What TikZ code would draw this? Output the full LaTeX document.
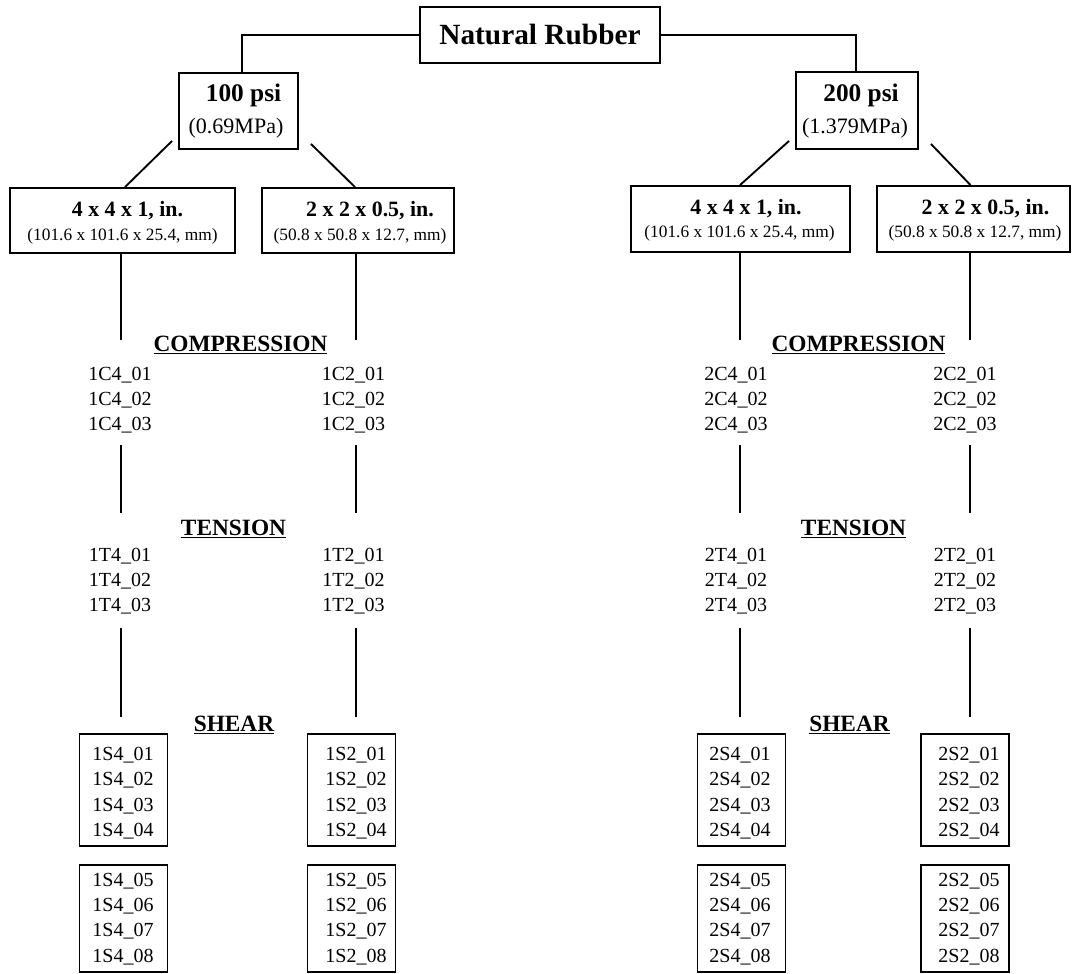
\documentclass[tikz,border=0pt]{standalone}
\usepackage{fontspec}
\setmainfont{Liberation Serif}
\usetikzlibrary{calc}
\begin{document}
\begin{tikzpicture}[x=0.75pt,y=-0.75pt,line width=1.4pt,
  box/.style={draw,line width=1.4pt,inner sep=0pt},
  ttl/.style={font=\fontsize{22}{26}\selectfont\bfseries},
  psi/.style={font=\fontsize{19}{22}\selectfont\bfseries,anchor=base,inner sep=0pt},
  mpa/.style={font=\fontsize{16.5}{20}\selectfont,anchor=base,inner sep=0pt},
  dimt/.style={font=\fontsize{16.4}{20}\selectfont\bfseries,anchor=base,inner sep=0pt},
  mmt/.style={font=\fontsize{13}{16}\selectfont,anchor=base,inner sep=0pt},
  head/.style={font=\fontsize{17.5}{21}\selectfont\bfseries,anchor=base,inner sep=0pt},
  lab/.style={font=\fontsize{15}{18}\selectfont,anchor=base,inner sep=0pt},
  sbox/.style={box,minimum width=66pt}]
\useasboundingbox (0,0) rectangle (1074,974);

% top
\node[box,ttl,minimum width=180pt,minimum height=42pt] (nr) at (540,35) {Natural Rubber};

% pressure boxes
\node[box,minimum width=89.25pt,minimum height=57pt] (p1) at (238.5,111) {};
\node[psi] (p1a) at (243.5,101) {100 psi};
\node[mpa] (p1b) at (236,133) {(0.69MPa)};
\node[box,minimum width=91.5pt,minimum height=57.75pt] (p2) at (857,110.5) {};
\node[psi] (p2a) at (861,101) {200 psi};
\node[mpa] (p2b) at (855,133) {(1.379MPa)};

\coordinate (p1top) at ($(p1.north)+(3.5,0)$);
\coordinate (p2top) at ($(p2.north)+(-1,0)$);
\draw (nr.west) -| (p1top);
\draw (nr.east) -| (p2top);

% size boxes
\node[box,minimum width=168.75pt,minimum height=48.75pt] (b1) at (122.5,220.5) {};
\node[dimt] (b1a) at (127.5,216) {4 x 4 x 1, in.};
\node[mmt] (b1b) at (122.5,240) {(101.6 x 101.6 x 25.4, mm)};
\node[box,minimum width=144pt,minimum height=48.75pt] (b2) at (358,220.5) {};
\node[dimt] (b2a) at (370,216) {2 x 2 x 0.5, in.};
\node[mmt] (b2b) at (360,240) {(50.8 x 50.8 x 12.7, mm)};
\node[box,minimum width=164.25pt,minimum height=49.5pt] (b3) at (740.5,219) {};
\node[dimt] (b3a) at (746,214) {4 x 4 x 1, in.};
\node[mmt] (b3b) at (739.5,237) {(101.6 x 101.6 x 25.4, mm)};
\node[box,minimum width=144.75pt,minimum height=49.5pt] (b4) at (973.5,219) {};
\node[dimt] (b4a) at (985.5,214) {2 x 2 x 0.5, in.};
\node[mmt] (b4b) at (975,237) {(50.8 x 50.8 x 12.7, mm)};

% diagonals
\draw ($(p1.south west)+(-6,-9)$) -- ($(b1.north)+(2.5,0)$);
\draw ($(p1.south east)+(12,-6)$) -- ($(b2.north)+(-3,0)$);
\draw ($(p2.south west)+(-6,-9)$) -- ($(b3.north)+(-0.5,0)$);
\draw ($(p2.south east)+(12,-6)$) -- ($(b4.north)+(-3,0)$);

% vertical segments
\foreach \x/\n/\b in {121/A/b1,356/B/b2,740/C/b3,970/D/b4}{
  \coordinate (\n1) at (\x,340);
  \draw (\n1 |- \b.south) -- (\n1);
  \coordinate (\n2t) at (\x,445);
  \coordinate (\n2b) at (\x,513);
  \draw (\n2t) -- (\n2b);
  \coordinate (\n3t) at (\x,628);
  \coordinate (\n3b) at (\x,717);
  \draw (\n3t) -- (\n3b);
}

% headers
\node[head] (hc1) at (240.5,351) {\underline{COMPRESSION}};
\node[head] (hc2) at (858.5,351) {\underline{COMPRESSION}};
\node[head] (ht1) at (233.5,535) {\underline{TENSION}};
\node[head] (ht2) at (853.5,535) {\underline{TENSION}};
\node[head] (hs1) at (234,731) {\underline{SHEAR}};
\node[head] (hs2) at (849.5,731) {\underline{SHEAR}};

% compression and tension labels
\foreach \x/\c/\t in {120/1C4/1T4,353.5/1C2/1T2,736/2C4/2T4,965/2C2/2T2}{
  \node[lab] (c-\c-1) at (\x,380) {\c\_01};
  \node[lab] (c-\c-2) at (\x,405) {\c\_02};
  \node[lab] (c-\c-3) at (\x,430) {\c\_03};
  \node[lab] (t-\t-1) at (\x,561) {\t\_01};
  \node[lab] (t-\t-2) at (\x,586) {\t\_02};
  \node[lab] (t-\t-3) at (\x,611) {\t\_03};
}

% shear boxes
\foreach \bx/\tx/\s/\n in {123.5/123/1S4/s1,351.5/356/1S2/s2,741.5/740/2S4/s3,965/969/2S2/s4}{
  \node[sbox,minimum height=84pt] (\n a) at (\bx,790) {};
  \node[sbox,minimum height=80.5pt] (\n b) at (\bx,918.5) {};
  \node[lab] (\n-1) at (\tx,760) {\s\_01};
  \node[lab] (\n-2) at (\tx,785.5) {\s\_02};
  \node[lab] (\n-3) at (\tx,811) {\s\_03};
  \node[lab] (\n-4) at (\tx,836) {\s\_04};
  \node[lab] (\n-5) at (\tx,886) {\s\_05};
  \node[lab] (\n-6) at (\tx,911) {\s\_06};
  \node[lab] (\n-7) at (\tx,936) {\s\_07};
  \node[lab] (\n-8) at (\tx,962) {\s\_08};
}
\end{tikzpicture}
\end{document}
